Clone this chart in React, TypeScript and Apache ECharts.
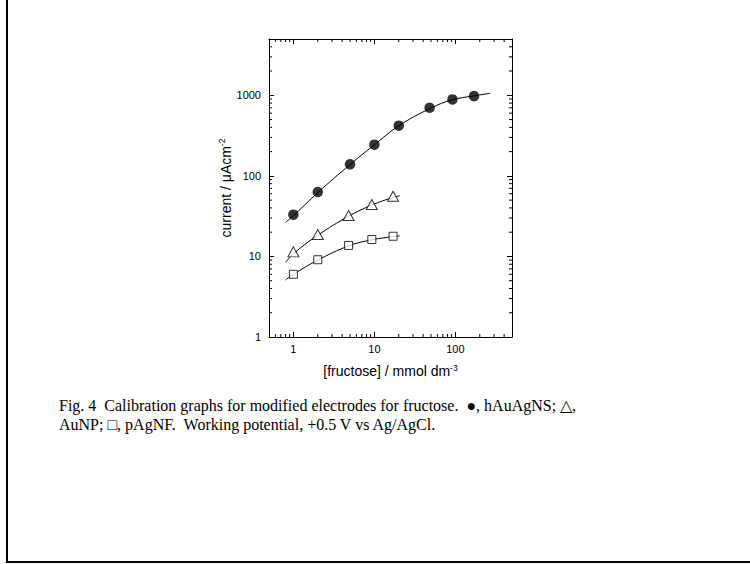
import React, { useEffect, useRef } from "react";
import * as echarts from "echarts";

// Measured points
const circleX = [1, 2, 5, 10, 20, 48, 92, 170];
const circleY = [33, 63, 139, 244, 420, 700, 890, 977];
const triX = [1, 2, 4.8, 9.3, 17];
const triY = [11.4, 18.7, 32.2, 44.1, 55.9];
const sqX = [1, 2, 4.8, 9.3, 17];
const sqY = [6.0, 9.1, 13.7, 16.2, 17.8];

// Fitted curves
const fitCircleX = [0.8, 1, 2, 5, 10, 20, 50, 90, 170, 270];
const fitCircleY = [26.5, 32, 62, 138, 243, 418, 695, 875, 985, 1060];
const fitTriX = [0.8, 1, 2, 4.8, 9.3, 17, 20.5];
const fitTriY = [8.4, 10.8, 18.3, 31.5, 43.5, 54, 56.5];
const fitSqX = [0.8, 1, 2, 4.8, 9.3, 17, 20.5];
const fitSqY = [5.1, 6.0, 9.0, 13.5, 16.1, 17.6, 18.0];

// Axis ranges and minor tick positions
const xRange = [0.5, 500];
const yRange = [1, 5000];
const xMinorTicks = [0.6, 0.7, 0.8, 0.9, 2, 3, 4, 5, 6, 7, 8, 9, 20, 30, 40, 50, 60, 70, 80, 90, 200, 300, 400];
const yMinorTicks = [2, 3, 4, 5, 6, 7, 8, 9, 20, 30, 40, 50, 60, 70, 80, 90, 200, 300, 400, 500, 600, 700, 800, 900, 2000, 3000, 4000];

const captionLine1 = "Fig. 4  Calibration graphs for modified electrodes for fructose.  \u25CF, hAuAgNS; \u25B3,";
const captionLine2 = "AuNP; \u25A1, pAgNF.  Working potential, +0.5 V vs Ag/AgCl.";

const SANS = "'Liberation Sans', Arial, sans-serif";
const SERIF = "'Liberation Serif', 'Times New Roman', serif";

const zip = (xs: number[], ys: number[]) => xs.map((x, i) => [x, ys[i]]);

const decadeLabel = (v: number) => {
  const l = Math.log10(v);
  return Math.abs(l - Math.round(l)) < 1e-6 ? String(Math.round(v)) : "";
};

export default function App() {
  const ref = useRef<HTMLDivElement>(null);
  useEffect(() => {
    const chart = echarts.init(ref.current!, null, { renderer: "svg" });
    const axisCommon = {
      type: "log",
      logBase: 10,
      splitLine: { show: false },
      axisLine: { show: true, onZero: false, lineStyle: { color: "#000", width: 1 } },
      axisTick: { show: true, inside: true, length: 5, lineStyle: { color: "#000", width: 1 } },
    };
    const tickRender = (orient: "x" | "y") => (params: any, api: any) => {
      const cs = params.coordSys;
      const p = api.coord([api.value(0), api.value(1)]);
      const L = 3;
      const st = { stroke: "#000", lineWidth: 1 };
      if (orient === "x") {
        const b = cs.y + cs.height;
        const t = cs.y;
        return {
          type: "group",
          children: [
            { type: "line", shape: { x1: p[0], y1: b, x2: p[0], y2: b - L }, style: st },
            { type: "line", shape: { x1: p[0], y1: t, x2: p[0], y2: t + L }, style: st },
          ],
        };
      }
      const l = cs.x;
      const r = cs.x + cs.width;
      return {
        type: "group",
        children: [
          { type: "line", shape: { x1: l, y1: p[1], x2: l + L, y2: p[1] }, style: st },
          { type: "line", shape: { x1: r, y1: p[1], x2: r - L, y2: p[1] }, style: st },
        ],
      };
    };
    const nameRich = {
      a: { fontSize: 14, fontFamily: SANS, color: "#000", lineHeight: 16 },
      s: { fontSize: 8.5, fontFamily: SANS, color: "#000", verticalAlign: "top", lineHeight: 9 },
    };
    const option: any = {
      animation: false,
      backgroundColor: "#fff",
      grid: { left: 269, top: 39, width: 243, height: 298, containLabel: false },
      xAxis: [
        {
          ...axisCommon,
          min: xRange[0],
          max: xRange[1],
          position: "bottom",
          axisLabel: {
            formatter: decadeLabel,
            fontSize: 11,
            fontFamily: SANS,
            color: "#000",
            margin: 6,
            showMinLabel: false,
            showMaxLabel: false,
          },
          name: "{a|[fructose] / mmol dm}{s|-3}",
          nameLocation: "middle",
          nameGap: 26,
          nameTextStyle: { rich: nameRich },
        },
        {
          ...axisCommon,
          min: xRange[0],
          max: xRange[1],
          position: "top",
          axisLabel: { show: false },
        },
      ],
      yAxis: [
        {
          ...axisCommon,
          min: yRange[0],
          max: yRange[1],
          position: "left",
          axisLabel: {
            formatter: decadeLabel,
            fontSize: 11,
            fontFamily: SANS,
            color: "#000",
            margin: 8,
            showMaxLabel: false,
          },
          name: "{a|current / \u03BCAcm}{s|-2}",
          nameLocation: "middle",
          nameGap: 33,
          nameRotate: 90,
          nameTextStyle: { rich: nameRich },
        },
        {
          ...axisCommon,
          min: yRange[0],
          max: yRange[1],
          position: "right",
          axisLabel: { show: false },
        },
      ],
      graphic: [
        { type: "line", shape: { x1: 7, y1: 0, x2: 7, y2: 562 }, style: { stroke: "#000", lineWidth: 2 } },
        { type: "line", shape: { x1: 6, y1: 562, x2: 750, y2: 562 }, style: { stroke: "#000", lineWidth: 2 } },
        {
          type: "text",
          left: 59,
          top: 397,
          style: { text: captionLine1, font: `16px ${SERIF}`, fill: "#000" },
        },
        {
          type: "text",
          left: 59,
          top: 416,
          style: { text: captionLine2, font: `16px ${SERIF}`, fill: "#000" },
        },
      ],
      series: [
        {
          type: "line",
          data: zip(fitCircleX, fitCircleY),
          smooth: 0.4,
          showSymbol: false,
          lineStyle: { color: "#000", width: 1 },
          silent: true,
        },
        {
          type: "line",
          data: zip(fitTriX, fitTriY),
          smooth: 0.4,
          showSymbol: false,
          lineStyle: { color: "#000", width: 1 },
          silent: true,
        },
        {
          type: "line",
          data: zip(fitSqX, fitSqY),
          smooth: 0.4,
          showSymbol: false,
          lineStyle: { color: "#000", width: 1 },
          silent: true,
        },
        {
          type: "scatter",
          name: "hAuAgNS",
          data: zip(circleX, circleY),
          symbol: "circle",
          symbolSize: 10.5,
          itemStyle: { color: "#000" },
          z: 5,
        },
        {
          type: "scatter",
          name: "AuNP",
          data: zip(triX, triY),
          symbol: "triangle",
          symbolSize: [11, 10],
          itemStyle: { color: "#fff", borderColor: "#000", borderWidth: 1 },
          z: 5,
        },
        {
          type: "scatter",
          name: "pAgNF",
          data: zip(sqX, sqY),
          symbol: "rect",
          symbolSize: 8,
          itemStyle: { color: "#fff", borderColor: "#000", borderWidth: 1 },
          z: 5,
        },
        {
          type: "custom",
          data: xMinorTicks.map((v) => [v, 1]),
          renderItem: tickRender("x"),
          silent: true,
          clip: false,
        },
        {
          type: "custom",
          data: yMinorTicks.map((v) => [1, v]),
          renderItem: tickRender("y"),
          silent: true,
          clip: false,
        },
      ],
    };
    chart.setOption(option);
    return () => chart.dispose();
  }, []);
  return (
    <div
      ref={ref}
      style={{ position: "absolute", left: 0, top: 0, width: 750, height: 564, background: "#fff" }}
    />
  );
}
